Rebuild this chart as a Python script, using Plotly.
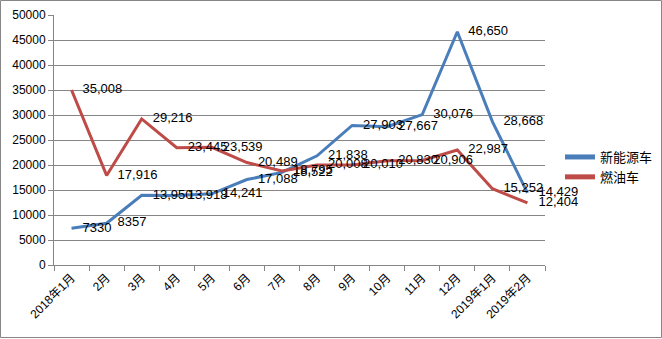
import plotly.graph_objects as go

categories = ["2018年1月", "2月", "3月", "4月", "5月", "6月", "7月", "8月", "9月",
              "10月", "11月", "12月", "2019年1月", "2019年2月"]
nev = [7330, 8357, 13950, 13918, 14241, 17088, 18522, 21838, 27903, 27667,
       30076, 46650, 28668, 14429]
fuel = [35008, 17916, 29216, 23445, 23539, 20489, 18795, 20008, 20010, 20830,
        20906, 22987, 15252, 12404]
series_names = ["新能源车", "燃油车"]
y_ticks = [0, 5000, 10000, 15000, 20000, 25000, 30000, 35000, 40000, 45000, 50000]


def fmt(v):
    return f"{v:,}" if v >= 10000 else str(v)


FONT = "Liberation Sans, Noto Sans CJK SC, sans-serif"
BLUE = "#4A7EBB"
RED = "#BE4B48"

fig = go.Figure()
for name, vals, col in [(series_names[0], nev, BLUE), (series_names[1], fuel, RED)]:
    fig.add_trace(go.Scatter(
        x=categories, y=vals, name=name, mode="lines+markers+text",
        line=dict(color=col, width=3),
        marker=dict(size=16, color="rgba(0,0,0,0)", line=dict(width=0)),
        text=[fmt(v) for v in vals], textposition="middle right",
        textfont=dict(family=FONT, size=13, color="#000000"),
        cliponaxis=False,
    ))

L, R, T, B = 54, 117, 15, 74
W, H = 662, 339
pw, ph = W - L - R, H - T - B

fig.update_layout(
    width=W, height=H,
    margin=dict(l=L, r=R, t=T, b=B, autoexpand=False),
    paper_bgcolor="white", plot_bgcolor="white",
    font=dict(family=FONT, size=12, color="#000000"),
    showlegend=True,
    legend=dict(x=(560 - L) / pw, y=(T + ph - 167) / ph, xanchor="left", yanchor="middle",
                bgcolor="rgba(0,0,0,0)", font=dict(family=FONT, size=13),
                tracegroupgap=4, itemsizing="constant"),
    xaxis=dict(
        type="category", tickangle=-45, showgrid=False,
        showline=True, linecolor="#868686", linewidth=1,
        ticks="outside", ticklen=5, tickcolor="#868686", tickson="boundaries",
        tickfont=dict(family=FONT, size=12),
        range=[-0.5, len(categories) - 0.5],
    ),
    yaxis=dict(
        range=[0, 50000], tickvals=y_ticks, ticktext=[str(v) for v in y_ticks],
        showgrid=True, gridcolor="#868686", gridwidth=1,
        showline=True, linecolor="#868686", linewidth=1,
        ticks="outside", ticklen=5, tickcolor="#868686",
        tickfont=dict(family=FONT, size=12), zeroline=False,
    ),
    shapes=[dict(type="rect", xref="paper", yref="paper",
                 x0=(0.5 - L) / pw, x1=(W - 0.5 - L) / pw,
                 y0=(-(B - 1.5)) / ph, y1=(ph + T - 0.5) / ph,
                 line=dict(color="#868686", width=1), fillcolor="rgba(0,0,0,0)",
                 layer="below")],
)

fig.write_html("out.html")
